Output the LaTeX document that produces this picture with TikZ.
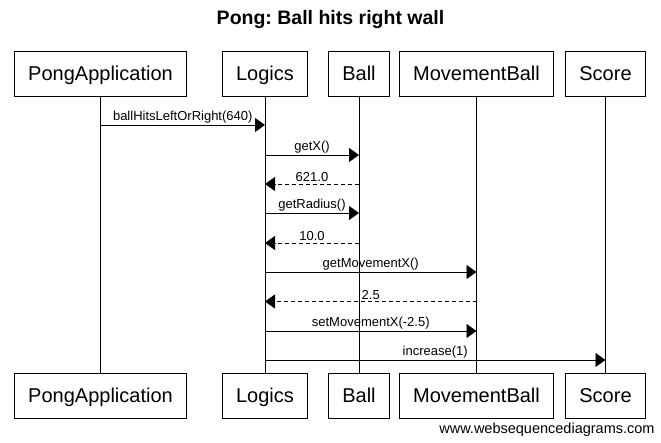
\documentclass[tikz,border=0pt]{standalone}
\usepackage{fontspec}
\setmainfont{Liberation Sans}
\usetikzlibrary{arrows.meta}

\def\topy{73.5}
\def\boty{395.5}

\begin{document}
\frenchspacing
\begin{tikzpicture}[
  x=1pt, y=-1pt,
  line width=0.9pt,
  partbox/.style={draw, line width=0.9pt, inner xsep=14pt, inner ysep=0pt,
                  minimum height=45pt, text height=14.3pt, text depth=0pt,
                  font=\fontsize{20}{24}\selectfont},
  life/.style={line width=0.9pt},
  msg/.style={-{Triangle[length=10pt,width=14pt]}},
  reply/.style={msg, dash pattern=on 4pt off 3pt},
  msgtext/.style={font=\fontsize{13}{15}\selectfont, above, inner sep=1.5pt},
]
\useasboundingbox (0,0) rectangle (661,443);

% ---------- participant: top box, bottom box, lifeline ----------
\newcommand{\lifebox}[3]{% name x label
  \node[partbox] (#1T) at (#2,\topy){#3};
  \node[partbox] (#1B) at (#2,\boty){#3};
  \draw[life] (#1T.south) -- (#1B.north);}

% =====================================================================
% TITLE
% =====================================================================
\node[font=\bfseries\fontsize{19.5}{23}\selectfont] (title) at (330.5,20)
     {Pong: Ball hits right wall};

% =====================================================================
% PARTICIPANTS
% =====================================================================
\lifebox{pong}{100.5}{PongApplication}
\lifebox{logics}{265}{Logics}
\lifebox{ball}{359}{Ball}
\lifebox{move}{476.5}{MovementBall}
\lifebox{score}{605.5}{Score}

% =====================================================================
% MESSAGES
% =====================================================================
\coordinate (m1) at (0,125);
\coordinate (m2) at (0,155);
\coordinate (m3) at (0,184);
\coordinate (m4) at (0,213);
\coordinate (m5) at (0,243);
\coordinate (m6) at (0,272);
\coordinate (m7) at (0,301.5);
\coordinate (m8) at (0,331);
\coordinate (m9) at (0,360);

\draw[msg]   (pongT |- m1) -- (logicsT |- m1) node[msgtext, midway]{ballHitsLeftOrRight(640)};
\draw[msg]   (logicsT |- m2) -- (ballT |- m2) node[msgtext, midway]{getX()};
\draw[reply] (ballT |- m3) -- (logicsT |- m3) node[msgtext, midway]{621.0};
\draw[msg]   (logicsT |- m4) -- (ballT |- m4) node[msgtext, midway]{getRadius()};
\draw[reply] (ballT |- m5) -- (logicsT |- m5) node[msgtext, midway]{10.0};
\draw[msg]   (logicsT |- m6) -- (moveT |- m6) node[msgtext, midway]{getMovementX()};
\draw[reply] (moveT |- m7) -- (logicsT |- m7) node[msgtext, midway]{2.5};
\draw[msg]   (logicsT |- m8) -- (moveT |- m8) node[msgtext, midway]{setMovementX(-2.5)};
\draw[msg]   (logicsT |- m9) -- (scoreT |- m9) node[msgtext, midway]{increase(1)};

% watermark
\node[anchor=east, inner sep=0pt, font=\fontsize{14.5}{16}\selectfont] (wsd) at (655,430)
     {www.websequencediagrams.com};

\end{tikzpicture}
\end{document}
